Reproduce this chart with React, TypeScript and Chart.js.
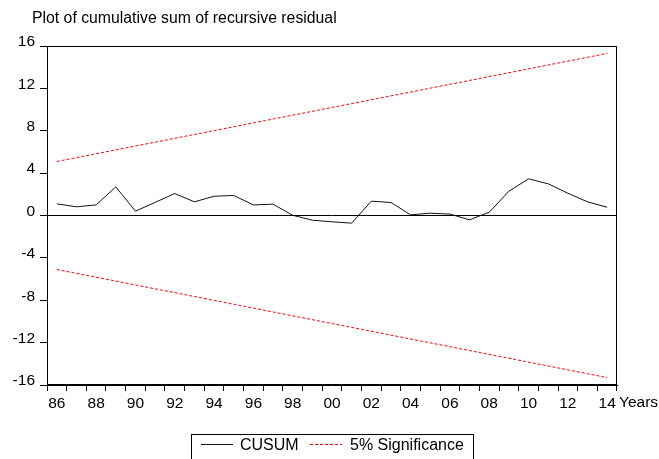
import React, { useEffect, useRef } from 'react';
import { Chart, registerables } from 'chart.js';

Chart.register(...registerables);

const years = [
  '1986', '1987', '1988', '1989', '1990', '1991', '1992', '1993', '1994', '1995',
  '1996', '1997', '1998', '1999', '2000', '2001', '2002', '2003', '2004', '2005',
  '2006', '2007', '2008', '2009', '2010', '2011', '2012', '2013', '2014',
];
const tickLabels = [
  '86', '', '88', '', '90', '', '92', '', '94', '', '96', '', '98', '', '00', '',
  '02', '', '04', '', '06', '', '08', '', '10', '', '12', '', '14',
];
const cusum = [
  1.10, 0.82, 1.00, 2.70, 0.41, 1.24, 2.07, 1.29, 1.82, 1.89,
  1.00, 1.07, 0.02, -0.44, -0.60, -0.72, 1.35, 1.23, 0.06, 0.22,
  0.13, -0.41, 0.31, 2.29, 3.46, 2.99, 2.10, 1.29, 0.78,
];
const boundYears = ['1986', '2014'];
const upperBound = [5.1, 15.3];
const lowerBound = [-5.1, -15.3];
const yTicks = [-16, -12, -8, -4, 0, 4, 8, 12, 16];

const titleText = 'Plot of cumulative sum of recursive residual';
const xAxisName = 'Years';
const FONT = "'Liberation Sans', Arial, sans-serif";

const decorPlugin = {
  id: 'decor',
  afterDraw(chart: any) {
    const { ctx, chartArea } = chart;
    ctx.save();
    // frame
    ctx.strokeStyle = '#000';
    ctx.lineWidth = 1;
    ctx.strokeRect(
      Math.round(chartArea.left) + 0.5,
      Math.round(chartArea.top) + 0.5,
      Math.round(chartArea.right - chartArea.left) - 1,
      Math.round(chartArea.bottom - chartArea.top) - 1
    );
    // title
    ctx.fillStyle = '#000';
    ctx.font = `15.8px ${FONT}`;
    ctx.textBaseline = 'alphabetic';
    ctx.textAlign = 'left';
    ctx.fillText(titleText, 32, 23);
    // axis name
    ctx.font = `15.5px ${FONT}`;
    ctx.fillText(xAxisName, chartArea.right + 2, 407);
    // legend
    ctx.font = `16px ${FONT}`;
    const ds = chart.data.datasets;
    ctx.strokeRect(191.5, 434.5, 282, 40);
    ctx.beginPath();
    ctx.strokeStyle = ds[0].borderColor;
    ctx.moveTo(201, 444.5);
    ctx.lineTo(233, 444.5);
    ctx.stroke();
    ctx.fillText(ds[0].label, 240, 450);
    ctx.beginPath();
    ctx.strokeStyle = ds[1].borderColor;
    ctx.setLineDash(ds[1].borderDash);
    ctx.moveTo(310, 444.5);
    ctx.lineTo(342, 444.5);
    ctx.stroke();
    ctx.setLineDash([]);
    ctx.fillText(ds[1].label, 350, 450);
    ctx.restore();
  },
};

export default function App() {
  const ref = useRef<HTMLCanvasElement | null>(null);

  useEffect(() => {
    if (!ref.current) return;
    const font = { family: FONT, size: 15.5 };
    const chart = new Chart(ref.current, {
      type: 'line',
      data: {
        labels: years,
        datasets: [
          {
            label: 'CUSUM',
            data: cusum,
            borderColor: '#111111',
            borderWidth: 1,
            pointRadius: 0,
            tension: 0,
          },
          {
            label: '5% Significance',
            data: boundYears.map((x, i) => ({ x, y: upperBound[i] })) as any,
            borderColor: '#ff0000',
            borderWidth: 1,
            borderDash: [3, 2],
            pointRadius: 0,
          },
          {
            label: '',
            data: boundYears.map((x, i) => ({ x, y: lowerBound[i] })) as any,
            borderColor: '#ff0000',
            borderWidth: 1,
            borderDash: [3, 2],
            pointRadius: 0,
          },
        ],
      },
      options: {
        responsive: false,
        animation: false,
        layout: { padding: { left: 0, top: 46, right: 42, bottom: 0 } },
        plugins: {
          legend: { display: false },
          tooltip: { enabled: false },
          title: { display: false },
        },
        scales: {
          x: {
            type: 'category',
            offset: true,
            grid: {
              offset: true,
              drawOnChartArea: false,
              tickLength: 6,
              color: '#000',
              tickColor: '#000',
            },
            border: { color: '#000', width: 1 },
            ticks: {
              autoSkip: false,
              maxRotation: 0,
              minRotation: 0,
              color: '#000',
              font,
              padding: 3,
              callback: (_v: any, i: number) => tickLabels[i],
            },
            afterFit: (s: any) => {
              s.height = 74;
            },
          },
          y: {
            min: yTicks[0],
            max: yTicks[yTicks.length - 1],
            afterBuildTicks: (s: any) => {
              s.ticks = yTicks.map((v) => ({ value: v }));
            },
            ticks: {
              color: '#000',
              font,
              padding: 5,
              labelOffset: -4,
            },
            grid: {
              color: (c: any) => (c.tick && c.tick.value === 0 ? '#000' : 'rgba(0,0,0,0)'),
              tickColor: '#000',
              tickLength: 7,
            },
            border: { color: '#000', width: 1 },
            afterFit: (s: any) => {
              s.width = 47;
            },
          },
        },
      },
      plugins: [decorPlugin],
    } as any);
    return () => chart.destroy();
  }, []);

  return (
    <div
      style={{
        position: 'fixed',
        left: 0,
        top: 0,
        width: 659,
        height: 459,
        background: '#fff',
      }}
    >
      <canvas ref={ref} width={659} height={459} style={{ display: 'block' }} />
    </div>
  );
}
